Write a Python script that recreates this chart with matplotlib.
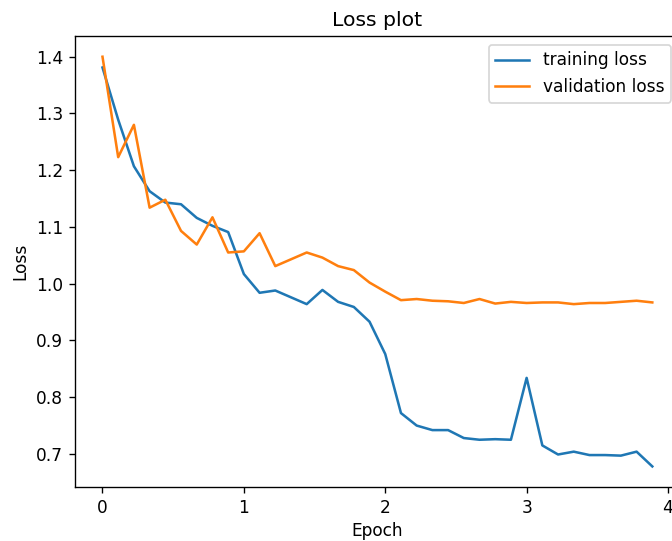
import numpy as np
import matplotlib
matplotlib.use("Agg")
from matplotlib import pyplot as plt
from matplotlib.ticker import MultipleLocator

# loss logged 9 times per epoch
steps_per_epoch = 9
train_loss = [1.381, 1.289, 1.207, 1.163, 1.143, 1.140, 1.116, 1.102, 1.091,
              1.017, 0.984, 0.988, 0.976, 0.964, 0.989, 0.968, 0.959, 0.933,
              0.876, 0.772, 0.750, 0.742, 0.742, 0.728, 0.725, 0.726, 0.725,
              0.834, 0.715, 0.699, 0.704, 0.698, 0.698, 0.697, 0.704, 0.678]
val_loss = [1.400, 1.223, 1.280, 1.134, 1.148, 1.093, 1.069, 1.117, 1.055,
            1.057, 1.089, 1.031, 1.043, 1.055, 1.046, 1.031, 1.024, 1.002,
            0.986, 0.971, 0.973, 0.970, 0.969, 0.966, 0.973, 0.965, 0.968,
            0.966, 0.967, 0.967, 0.964, 0.966, 0.966, 0.968, 0.970, 0.967]

epochs = np.arange(len(train_loss)) / steps_per_epoch

# the reference is a crop of a default 6.4x4.8 figure at ~122 dpi
fig = plt.figure(figsize=(672 / 122, 541 / 122), dpi=122)
ax = fig.add_axes([0.1116, 0.1, 0.900, 0.833])

ax.plot(epochs, train_loss, label="training loss")
ax.plot(epochs, val_loss, label="validation loss")
ax.xaxis.set_major_locator(MultipleLocator(1))
ax.set_title("Loss plot")
ax.set_xlabel("Epoch", labelpad=3)
ax.set_ylabel("Loss")
ax.legend(loc="upper right")

fig.savefig("out.png", dpi=122)
